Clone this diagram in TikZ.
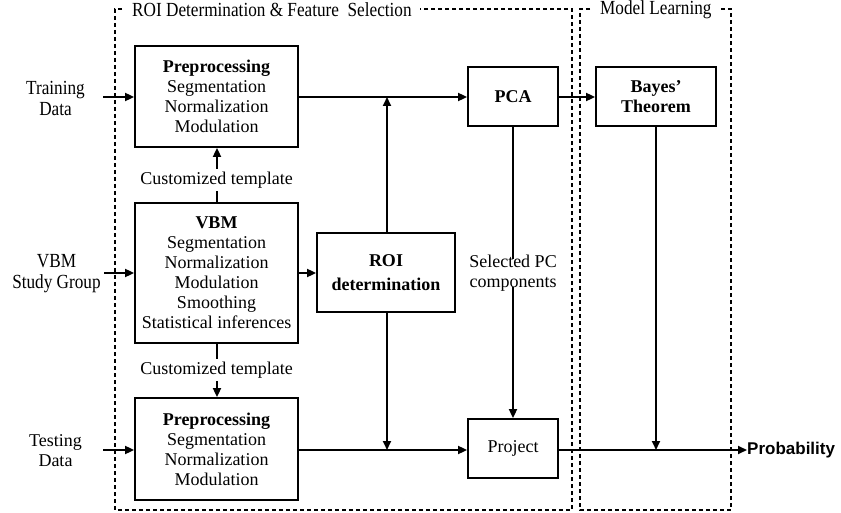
\documentclass[tikz,border=0pt]{standalone}
\usepackage{fontspec}
\setmainfont{Liberation Serif}
\newfontfamily\condfont[FakeStretch=0.86]{Liberation Serif}
\newfontfamily\probfont{Liberation Sans}
\usetikzlibrary{arrows.meta}
\begin{document}
\begin{tikzpicture}[x=1pt,y=-1pt,
  box/.style={draw,line width=1.8pt,inner sep=0pt,align=center,font=\fontsize{18}{20}\selectfont\bfseries},
  lbl/.style={inner sep=0pt,align=center,font=\fontsize{18}{20}\selectfont},
  clbl/.style={inner sep=0pt,align=center,font=\condfont\fontsize{20}{21}\selectfont},
  conn/.style={line width=1.8pt},
  arr/.style={line width=1.8pt,-{Triangle[length=9pt,width=8pt]}},
  group/.style={draw,line width=1.1pt,dash pattern=on 4pt off 3pt}]
\useasboundingbox (0,0) rectangle (841,513);
% group frames
\draw[group] (122,9) -- (115,9) -- (115,510) -- (572,510) -- (572,9) -- (420,9);
\node[clbl,anchor=west] (t1) at (132,10) {ROI Determination \& Feature\ \ Selection};
\draw[group] (590,9) -- (580,9) -- (580,510) -- (731,510) -- (731,9) -- (721,9);
\node[clbl,anchor=west] (t2) at (600,10) {Model Learning};
% boxes
\node[box,minimum width=163pt,minimum height=101pt] (pre1) at (216.5,96.5) {Preprocessing\\\mdseries Segmentation\\\mdseries Normalization\\\mdseries Modulation};
\node[box,minimum width=163pt,minimum height=140pt] (vbm) at (216.5,273) {VBM\\\mdseries Segmentation\\\mdseries Normalization\\\mdseries Modulation\\\mdseries Smoothing\\\mdseries Statistical inferences};
\node[box,minimum width=163pt,minimum height=102pt] (pre2) at (216.5,449) {Preprocessing\\\mdseries Segmentation\\\mdseries Normalization\\\mdseries Modulation};
\node[box,minimum width=138pt,minimum height=79pt,font=\fontsize{18}{24}\selectfont\bfseries] (roi) at (386,272.5) {ROI\\determination};
\node[box,minimum width=90pt,minimum height=59pt] (pca) at (513,96.5) {PCA};
\node[box,minimum width=90pt,minimum height=59pt,font=\fontsize{18}{20}\selectfont] (proj) at (513,448.5) {Project};
\node[box,minimum width=120pt,minimum height=59pt] (bayes) at (656,96.5) {Bayes’\\Theorem};
% outside labels
\node[clbl] (train) at (55.5,98) {Training\\Data};
\node[clbl] (vbmg) at (56.5,274) {VBM\\Study Group};
\node[lbl] (test) at (55.5,451) {Testing\\Data};
\node[inner sep=0pt,anchor=west,font=\probfont\fontsize{17}{18}\selectfont\bfseries] (prob) at (747,450) {Probability};
% middle labels
\node[lbl] (ct1) at (216.5,180) {Customized template};
\node[lbl] (ct2) at (216.5,370) {Customized template};
\node[lbl] (sel) at (513,273) {Selected PC\\components};
% junction coordinates
\coordinate (tx) at (217,0);
\coordinate (j1) at (387,97);
\coordinate (j2) at (387,450);
\coordinate (j3) at (656,450);
\coordinate (a1) at (103,97);
\coordinate (a2) at (104,273);
\coordinate (a3) at (103,450);
% input arrows
\draw[arr] (a1) -- (pre1.west |- a1);
\draw[arr] (a2) -- (vbm.west |- a2);
\draw[arr] (a3) -- (pre2.west |- a3);
% template arrows
\draw[conn] (vbm.north -| tx) -- ([yshift=-3pt]ct1.south -| tx);
\draw[arr] ([yshift=3pt]ct1.north -| tx) -- (pre1.south -| tx);
\draw[conn] (vbm.south -| tx) -- ([yshift=3pt]ct2.north -| tx);
\draw[arr] ([yshift=-3pt]ct2.south -| tx) -- (pre2.north -| tx);
% training path
\draw[arr] (pre1.east |- j1) -- (pca.west |- j1);
\draw[arr] (roi.north -| j1) -- (j1);
\draw[arr] (pca.east |- j1) -- (bayes.west |- j1);
% vbm to roi
\draw[arr] (vbm.east |- a2) -- (roi.west |- a2);
% testing path
\draw[arr] (pre2.east |- j2) -- (proj.west |- j2);
\draw[arr] (roi.south -| j2) -- (j2);
\draw[conn] (pca.south) -- ([yshift=-4pt]sel.north);
\draw[arr] ([yshift=4pt]sel.south) -- (proj.north);
\draw[arr] (proj.east |- j3) -- (prob.west);
\draw[arr] (bayes.south) -- (j3);
\end{tikzpicture}
\end{document}
